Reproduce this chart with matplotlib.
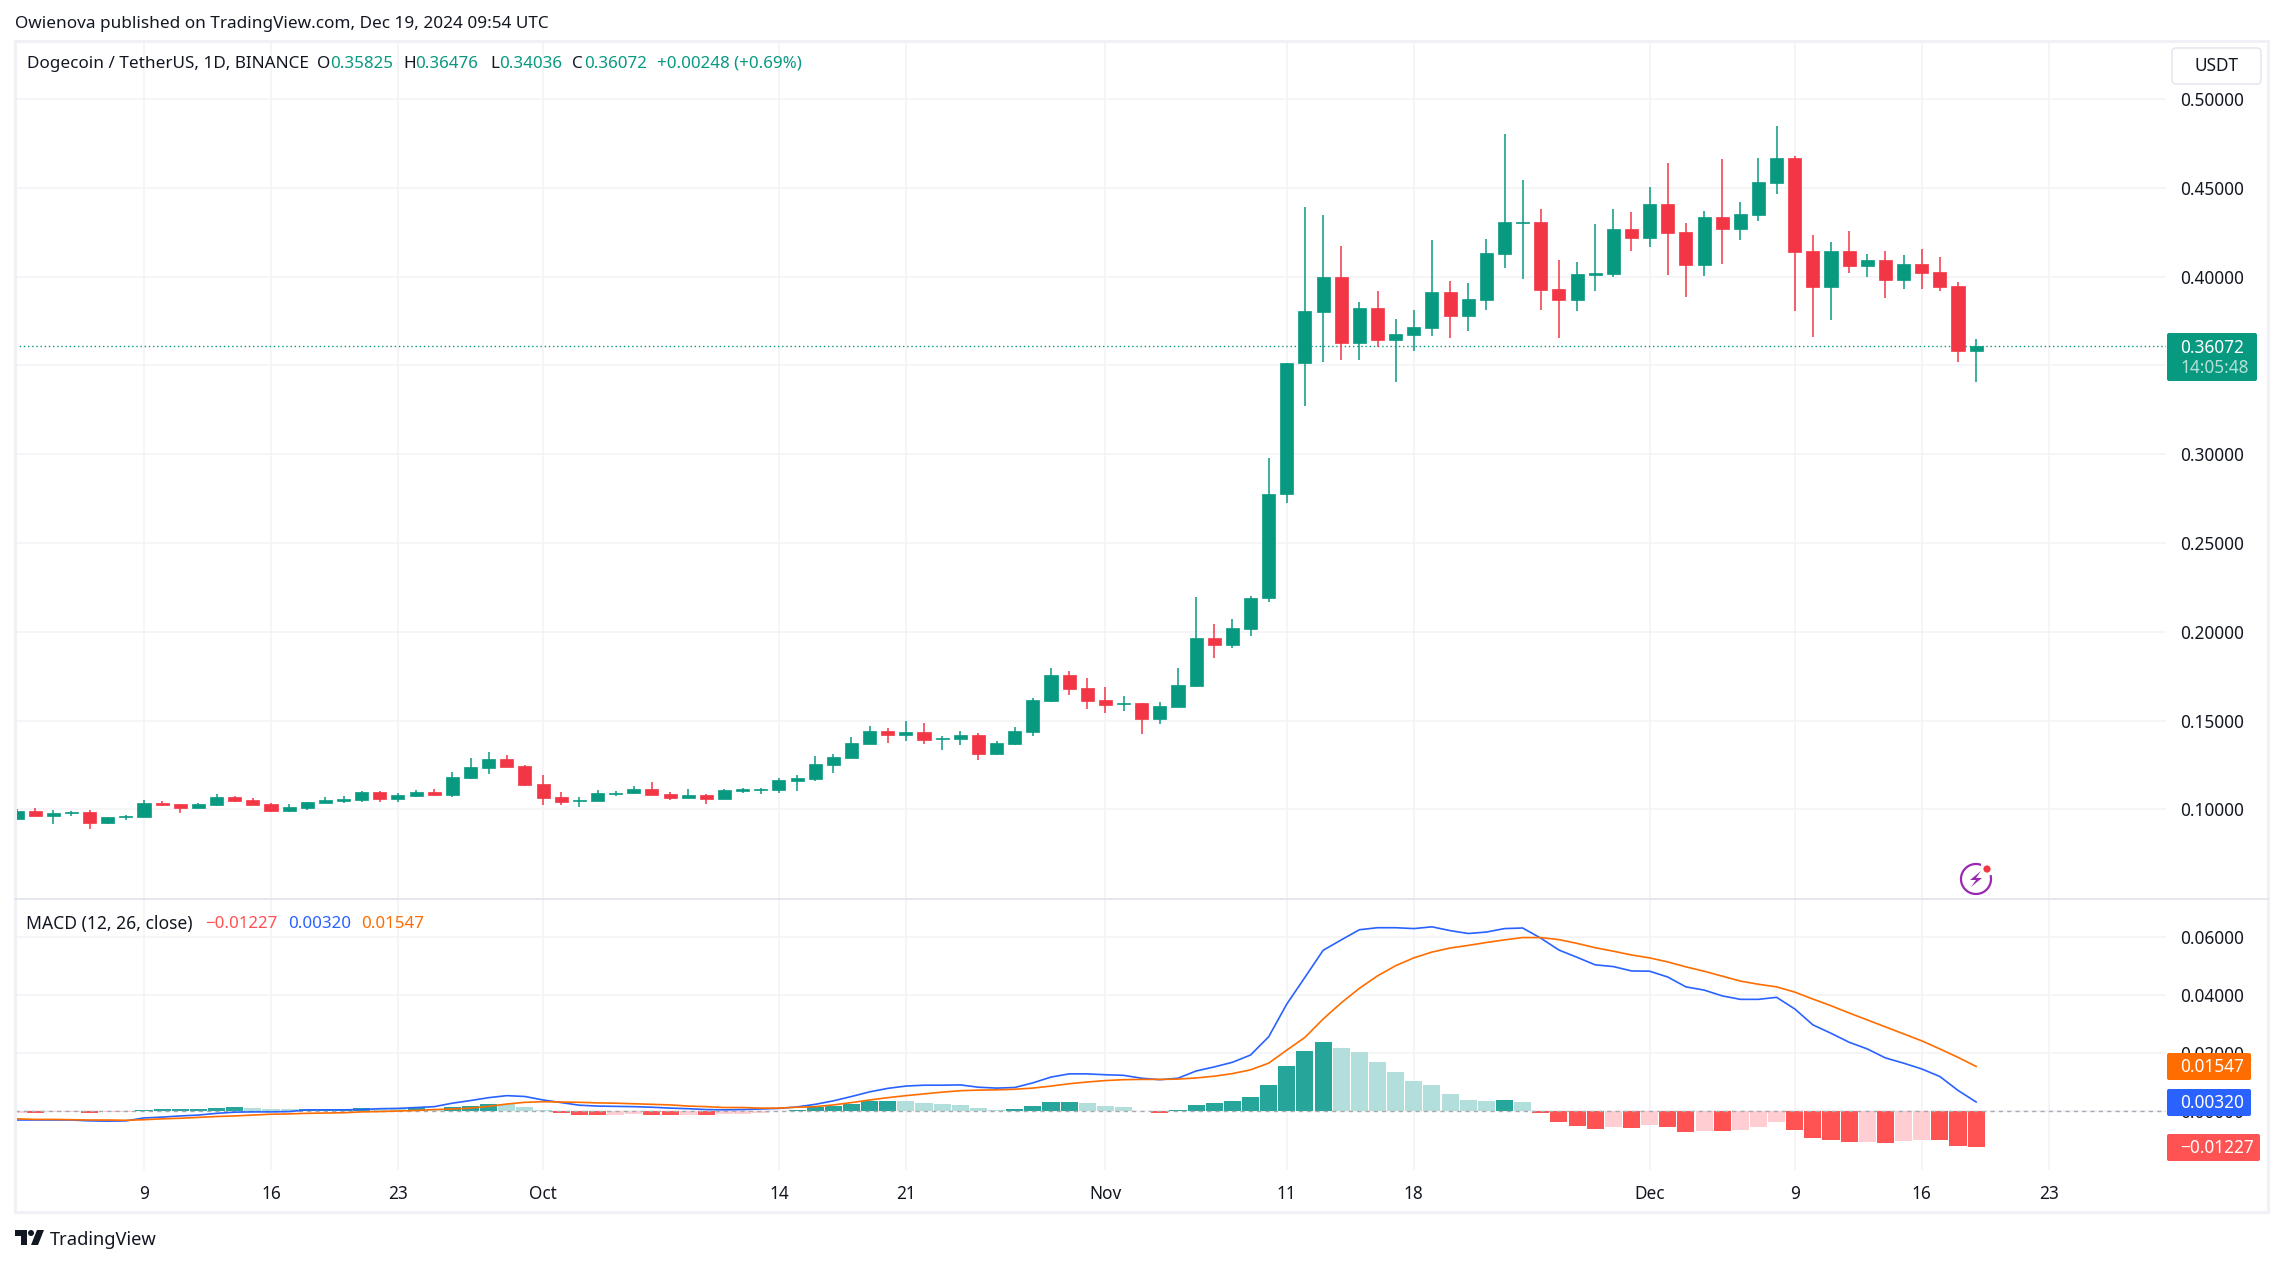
#!/usr/bin/python
import numpy as np
import pandas as pd
import matplotlib
matplotlib.use("Agg")
import matplotlib.pyplot as plt
import matplotlib.dates as mdates
from matplotlib.patches import FancyBboxPatch, Arc, Circle, Polygon, Rectangle

plt.rcParams['font.family'] = ['Noto Sans', 'DejaVu Sans']

W, H = 2283, 1265
UP, DOWN = '#089981', '#F23645'
GRID = '#F2F3F7'
INK = '#131722'

# daily candles, 2 Sep to 19 Dec 2024
opens = [.0946,.0991,.0963,.0979,.0985,.0923,.0957,.0957,.1036,.1030,.1007,.1024,.1069,.1052,.1030,.0991,.1007,.1036,.1047,.1052,
         .1097,.1058,.1075,.1097,.1081,.1176,.1232,.1283,.1243,.1142,.1069,.1047,.1047,.1086,.1092,.1114,.1086,.1064,.1081,.1058,
         .1103,.1109,.1109,.1158,.1170,.1248,.1288,.1367,.1440,.1417,.1434,.1395,.1395,.1417,.1310,.1367,.1434,.1609,.1755,.1682,
         .1614,.1592,.1598,.1508,.1575,.1693,.1964,.1924,.2014,.2187,.2778,.3512,.3799,.3996,.3625,.3822,.3642,.3670,.3709,.3912,
         .3777,.3867,.4126,.4300,.4306,.3929,.3867,.4008,.4013,.4267,.4216,.4407,.4250,.4064,.4334,.4267,.4345,.4526,.4666,.4143,
         .3940,.4143,.4058,.4092,.3979,.4069,.4024,.3946,.35825]
highs = [.1002,.1007,.0996,.0993,.0996,.0957,.0968,.1052,.1047,.1030,.1036,.1086,.1075,.1064,.1036,.1030,.1041,.1069,.1075,.1103,
         .1103,.1092,.1109,.1114,.1210,.1288,.1322,.1305,.1249,.1193,.1097,.1069,.1109,.1103,.1131,.1154,.1097,.1114,.1086,.1114,
         .1120,.1120,.1176,.1192,.1299,.1310,.1406,.1468,.1457,.1496,.1485,.1412,.1440,.1429,.1384,.1462,.1626,.1795,.1778,.1738,
         .1688,.1637,.1598,.1603,.1795,.2194,.2042,.2071,.2200,.2980,.3515,.4390,.4345,.4171,.3855,.3917,.3760,.3810,.4205,.3974,
         .3962,.4210,.4801,.4542,.4379,.4092,.4081,.4295,.4379,.4362,.4503,.4638,.4300,.4368,.4661,.4419,.4666,.4846,.4678,.4233,
         .4193,.4255,.4126,.4143,.4120,.4154,.4109,.3968,.36476]
lows = [.0940,.0963,.0918,.0963,.0890,.0918,.0940,.0957,.1019,.0979,.1007,.1019,.1041,.1024,.0985,.0985,.0996,.1036,.1036,.1041,
        .1041,.1041,.1069,.1081,.1069,.1170,.1199,.1238,.1131,.1024,.1024,.1013,.1047,.1075,.1086,.1081,.1052,.1064,.1030,.1058,
        .1092,.1086,.1092,.1102,.1158,.1203,.1288,.1367,.1372,.1384,.1367,.1333,.1361,.1277,.1305,.1361,.1412,.1603,.1643,.1564,
        .1541,.1553,.1423,.1479,.1575,.1688,.1851,.1907,.1975,.2170,.2727,.3273,.3518,.3529,.3529,.3602,.3405,.3580,.3664,.3653,
        .3692,.3810,.4047,.3985,.3810,.3653,.3805,.3917,.3996,.4143,.4165,.4008,.3884,.4002,.4069,.4205,.4312,.4464,.3805,.3658,
        .3754,.4019,.3996,.3878,.3929,.3929,.3917,.3518,.34036]
closes = [.0991,.0963,.0979,.0985,.0923,.0957,.0963,.1036,.1024,.1007,.1030,.1069,.1047,.1024,.0991,.1013,.1041,.1052,.1058,.1097,
          .1058,.1081,.1097,.1081,.1182,.1238,.1283,.1238,.1137,.1064,.1041,.1052,.1092,.1092,.1114,.1081,.1064,.1081,.1058,.1109,
          .1114,.1114,.1165,.1175,.1254,.1294,.1372,.1440,.1417,.1434,.1389,.1401,.1417,.1310,.1372,.1440,.1614,.1755,.1676,.1609,
          .1586,.1598,.1508,.1581,.1699,.1964,.1924,.2020,.2189,.2778,.3515,.3805,.3996,.3625,.3822,.3642,.3675,.3715,.3912,.3777,
          .3872,.4131,.4306,.4306,.3923,.3867,.4013,.4019,.4267,.4216,.4407,.4244,.4064,.4334,.4267,.4351,.4531,.4666,.4137,.3940,
          .4143,.4058,.4092,.3979,.4069,.4019,.3940,.3580,.36072]

macd_line = [-.0030,-.0030,-.0030,-.0030,-.0033,-.0034,-.0033,-.0023,-.0020,-.0016,-.0013,-.0007,-.0003,-.0002,-.0002,-.0001,.0005,.0005,.0005,.0006,
             .0009,.0010,.0013,.0016,.0028,.0037,.0047,.0054,.0051,.0039,.0030,.0021,.0018,.0017,.0016,.0014,.0011,.0009,.0006,.0005,
             .0006,.0008,.0010,.0015,.0024,.0036,.0051,.0067,.0079,.0087,.0090,.0090,.0091,.0083,.0080,.0082,.0098,.0118,.0129,.0129,
             .0126,.0124,.0114,.0109,.0114,.0139,.0153,.0169,.0194,.0257,.0370,.0462,.0555,.0591,.0626,.0633,.0633,.0630,.0636,.0623,
             .0613,.0618,.0630,.0632,.0597,.0556,.0531,.0505,.0499,.0484,.0483,.0463,.0429,.0418,.0398,.0386,.0386,.0393,.0353,.0298,
             .0269,.0238,.0215,.0184,.0166,.0146,.0120,.0072,.00320]
signal_line = [-.0026,-.0028,-.0028,-.0029,-.0030,-.0030,-.0031,-.0029,-.0026,-.0024,-.0021,-.0018,-.0016,-.0013,-.0010,-.0009,-.0007,-.0006,-.0005,-.0002,
               -.0001,.0001,.0003,.0006,.0008,.0011,.0017,.0025,.0031,.0033,.0032,.0031,.0029,.0028,.0026,.0024,.0022,.0018,.0016,.0013,
               .0013,.0011,.0011,.0014,.0016,.0022,.0030,.0039,.0047,.0054,.0060,.0066,.0071,.0073,.0074,.0076,.0080,.0087,.0095,.0101,
               .0106,.0109,.0110,.0110,.0111,.0115,.0121,.0130,.0143,.0166,.0211,.0255,.0318,.0374,.0424,.0467,.0502,.0529,.0549,.0563,
               .0572,.0582,.0591,.0599,.0599,.0592,.0579,.0564,.0552,.0539,.0529,.0515,.0498,.0483,.0466,.0449,.0438,.0429,.0411,.0387,
               .0364,.0339,.0315,.0291,.0267,.0243,.0215,.0186,.01547]
hist = [-.0005,-.0006,-.0004,-.0003,-.0006,-.0004,-.0003,.0005,.0007,.00075,.0008,.0011,.0015,.0011,.0009,.0008,.00085,.0009,.00095,.0011,
        .0009,.0008,.0015,.0009,.0015,.0018,.0025,.0024,.0015,.0005,-.0006,-.0012,-.0013,-.0012,-.0011,-.0013,-.0014,-.0012,-.0013,-.0009,
        -.0008,-.0005,.0001,.0005,.0015,.0018,.0025,.0034,.0037,.0036,.0029,.0025,.0022,.0011,.0005,.0008,.0018,.0032,.0033,.0029,
        .0018,.0015,.0001,-.0006,.0005,.0022,.0029,.0036,.0049,.0091,.0156,.0208,.0239,.0218,.0205,.0170,.0136,.0105,.0091,.0060,
        .0039,.0036,.0039,.0032,-.0006,-.0037,-.0051,-.0061,-.0054,-.0057,-.0047,-.0054,-.0071,-.0068,-.0069,-.0064,-.0054,-.0037,-.0064,-.0092,
        -.0099,-.0107,-.0105,-.0109,-.0102,-.0099,-.0100,-.0120,-.01227]

price_ticks = [.10,.15,.20,.25,.30,.35,.40,.45,.50]
macd_ticks = [0,.02,.04,.06]
date_ticks = ['2024-09-09','2024-09-16','2024-09-23','2024-10-01','2024-10-14','2024-10-21','2024-11-01',
              '2024-11-11','2024-11-18','2024-12-01','2024-12-09','2024-12-16','2024-12-23']
date_labels = ['9','16','23','Oct','14','21','Nov','11','18','Dec','9','16','23']

x = mdates.date2num(pd.date_range('2024-09-02', periods=len(closes)))
opens, highs, lows, closes = map(np.array, (opens, highs, lows, closes))
hist = np.array(hist)

fig = plt.figure(figsize=(W/100, H/100), dpi=100, facecolor='white')

def px_axes(x0, y0, x1, y1):
    return fig.add_axes([x0/W, 1-y1/H, (x1-x0)/W, (y1-y0)/H], facecolor='white')

# x scale is 18.14 px per day, 9 Sep sits at px 144
sep9 = mdates.date2num(pd.Timestamp('2024-09-09'))
xlim = (sep9+(15-144)/18.14, sep9+(2166-144)/18.14)

ax = px_axes(15, 41, 2166, 899)
macd = px_axes(15, 899, 2166, 1170)
for a in (ax, macd):
    a.set_xlim(xlim)
    for s in a.spines.values():
        s.set_visible(False)
    a.grid(True, color=GRID, lw=1.1, zorder=0)
    a.set_axisbelow(True)
    a.yaxis.tick_right()
    a.tick_params(axis='y', length=0, pad=10, labelsize=12.4, labelcolor=INK)
    a.tick_params(axis='x', length=0, pad=11, labelsize=12.4, labelcolor=INK)
    a.set_xticks(mdates.date2num(pd.to_datetime(date_ticks)))

ax.set_xticklabels([])
macd.set_xticklabels(date_labels)

# price pane
ax.set_ylim(.0495, .5326)
ax.set_yticks(price_ticks)
ax.set_yticklabels(['%.5f' % t for t in price_ticks])
col = np.where(closes >= opens, UP, DOWN)
ax.vlines(x, lows, highs, colors=col, lw=1.1, zorder=3)
body = np.abs(closes-opens)
ax.bar(x, body, bottom=np.minimum(opens, closes), width=.72, color=col, edgecolor=col, lw=.5, zorder=4)
ax.axhline(closes[-1], color=UP, lw=1, ls=(0, (1, 2)), zorder=2)

# macd pane
macd.set_ylim(-.02024, .0732)
macd.set_yticks(macd_ticks)
macd.set_yticklabels(['%.5f' % t for t in macd_ticks])
prev = np.r_[hist[0], hist[:-1]]
hcol = []
for v, p in zip(hist, prev):
    if v >= 0:
        hcol.append('#26A69A' if v >= p else '#B2DFDB')
    else:
        hcol.append('#FF5252' if v < p else '#FFCDD2')
macd.bar(x, hist, width=.94, color=hcol, zorder=2)
macd.axhline(0, color='#A8AAB0', lw=1, ls=(0, (3, 3)), zorder=3)
macd.plot(x, macd_line, color='#2962FF', lw=1.2, zorder=4)
macd.plot(x, signal_line, color='#FF6D00', lw=1.2, zorder=5)

# page furniture in pixel coordinates
ov = fig.add_axes([0, 0, 1, 1], facecolor='none')
ov.set_xlim(0, W)
ov.set_ylim(H, 0)
ov.axis('off')

ov.add_patch(Rectangle((15, 41), 2253, 1171, fill=False, ec='#F0F1F6', lw=2.2))
ov.plot([15, 2268], [899, 899], color='#E0E3EB', lw=1.2)

def label(px, py, s, color=INK, size=12.4, **kw):
    ov.text(px, py, s, color=color, fontsize=size, va='center', ha=kw.pop('ha', 'left'), **kw)

def tag(x0, y0, x1, y1, color):
    ov.add_patch(FancyBboxPatch((x0+2, y0+2), x1-x0-4, y1-y0-4, boxstyle='round,pad=2,rounding_size=2',
                                fc=color, ec='none', zorder=5))

label(15, 24, 'Owienova published on TradingView.com, Dec 19, 2024 09:54 UTC', size=12.35)
label(27, 64, 'Dogecoin / TetherUS, 1D, BINANCE', size=12.35)
for px, s in ((317, 'O'), (403, 'H'), (490, 'L'), (572, 'C')):
    label(px, 64, s, size=12.35)
for px, s in ((330, '0.35825'), (415, '0.36476'), (499, '0.34036'), (584, '0.36072'), (657, '+0.00248 (+0.69%)')):
    label(px, 64, s, color=UP, size=12.2)

label(26, 924, 'MACD (12, 26, close)', size=12.6)
label(205, 924, '\u22120.01227', color='#FF5252', size=12.2)
label(288, 924, '0.00320', color='#2962FF', size=12.2)
label(361, 924, '0.01547', color='#FF6D00', size=12.2)

ov.add_patch(FancyBboxPatch((2174, 50), 85, 32, boxstyle='round,pad=2,rounding_size=4', fc='white', ec='#E0E3EB', lw=1))
label(2217, 66, 'USDT', ha='center', size=12.4)

tag(2167, 333, 2257, 381, UP)
label(2180, 348, '0.36072', color='white', zorder=6)
label(2180, 368, '14:05:48', color='#B5E0D8', zorder=6)
tag(2167, 1053, 2251, 1080, '#FF6D00')
label(2180, 1067, '0.01547', color='white', zorder=6)
tag(2167, 1089, 2251, 1116, '#2962FF')
label(2180, 1103, '0.00320', color='white', zorder=6)
tag(2167, 1134, 2260, 1161, '#FF5252')
label(2180, 1148, '\u22120.01227', color='white', zorder=6)

# flash icon
ov.add_patch(Arc((1976, 879), 30, 30, theta1=-15, theta2=290, color='#9C27B0', lw=1.6))
ov.add_patch(Polygon([(1981, 871), (1970, 880), (1976, 880), (1971, 887), (1982, 878), (1976, 878)], fc='#9C27B0', ec='none'))
ov.add_patch(Circle((1987, 869), 3.6, fc=DOWN, ec='none'))

# TradingView logo
ov.add_patch(Polygon([(15, 1230), (27, 1230), (27, 1245), (21, 1245), (21, 1236), (15, 1236)], fc=INK, ec='none'))
ov.add_patch(Circle((31, 1233), 3, fc=INK, ec='none'))
ov.add_patch(Polygon([(37, 1230), (44, 1230), (38, 1245), (31, 1245)], fc=INK, ec='none'))
label(50, 1240, 'TradingView', size=13.2)

fig.savefig('out.png', dpi=100)
